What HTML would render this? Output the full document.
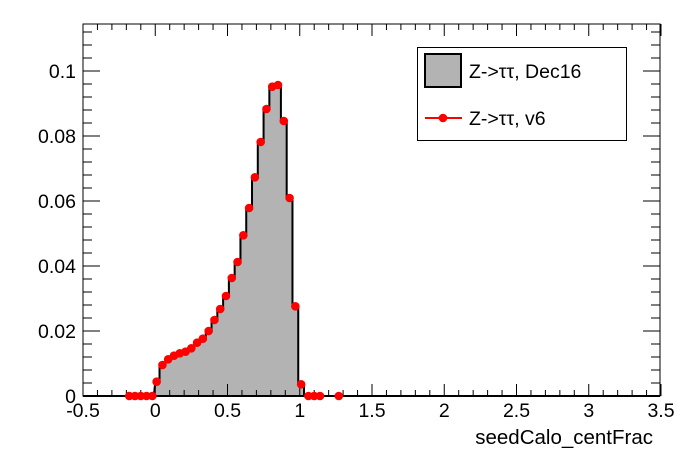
<!DOCTYPE html>
<html><head><meta charset="utf-8"><style>body{margin:0;background:#fff}svg{display:block}text{font-family:"Liberation Sans",sans-serif}</style></head>
<body><svg id="s" width="696" height="472" xmlns="http://www.w3.org/2000/svg"></svg>
<script>
const X=v=>83+(v+0.5)*144.5, Y=v=>396-v*3250;
let h='';
const pts=[[-0.18,396],[-0.14,396],[-0.10,396],[-0.06,396],[-0.02,396],
[0.02,381.7],[0.06,365],[0.10,359.3],[0.14,355.7],[0.18,353.3],[0.22,351.7],[0.26,348.3],[0.30,342.7],[0.34,338.7],[0.38,331],[0.42,320],[0.46,309],[0.50,296],[0.54,278],[0.58,262],[0.62,235.3],[0.66,208],[0.70,177.3],[0.74,142],[0.78,109],[0.82,86.7],[0.86,85],[0.90,121],[0.94,198],[0.98,306.3],[1.02,384.3],[1.06,396],[1.10,396],[1.14,396],[1.27,396]];
const B=v=>v>0&&v<1.05?X(v)-1.5:X(v);
let d='M'+B(0.001)+',396';
pts.filter(p=>p[0]>0&&p[0]<1.05).forEach(p=>{d+=' L'+B(p[0]-0.02)+','+p[1]+' L'+B(p[0]+0.02)+','+p[1];});
d+=' L'+B(1.04)+',396 Z';
h+=`<path d="${d}" fill="#b3b3b3" stroke="#000" stroke-width="2"/>`;
h+=`<rect x="83" y="24" width="577" height="372" fill="none" stroke="#000" stroke-width="1"/>`;
h+=`<line x1="83" y1="396" x2="660" y2="396" stroke="#000" stroke-width="2"/>`;
for(let i=0;i<=40;i++){const v=-0.5+i*0.1,x=X(v),L=(i%5==0)?12:6;
h+=`<line x1="${x}" y1="396" x2="${x}" y2="${396-L}" stroke="#000"/><line x1="${x}" y1="24" x2="${x}" y2="${24+L}" stroke="#000"/>`;}
for(let i=0;i*0.004<=0.1145;i++){const y=Y(i*0.004),L=(i%5==0)?17:9;
h+=`<line x1="83" y1="${y}" x2="${83+L}" y2="${y}" stroke="#000"/><line x1="660" y1="${y}" x2="${660-L}" y2="${y}" stroke="#000"/>`;}
['-0.5','0','0.5','1','1.5','2','2.5','3','3.5'].forEach((t,i)=>{h+=`<text x="${X(-0.5+i*0.5)}" y="417" font-size="19.5" text-anchor="middle">${t}</text>`;});
['0','0.02','0.04','0.06','0.08','0.1'].forEach((t,i)=>{h+=`<text x="76" y="${Y(i*0.02)+7}" font-size="19.5" text-anchor="end">${t}</text>`;});
h+=`<text x="653" y="444" font-size="20.5" text-anchor="end">seedCalo_centFrac</text>`;
pts.forEach(p=>{h+=`<circle cx="${B(p[0])}" cy="${p[1]}" r="4.3" fill="#f00"/>`;});
h+=`<rect x="417.5" y="47.5" width="209" height="93" fill="#fff" stroke="#000"/>`;
h+=`<rect x="425" y="54" width="36" height="33" fill="#b3b3b3" stroke="#000" stroke-width="2"/>`;
h+=`<text x="469" y="78" font-size="19.5">Z-&gt;ττ, Dec16</text>`;
h+=`<line x1="425" y1="118" x2="462" y2="118" stroke="#f00" stroke-width="2"/><circle cx="443" cy="118" r="4.3" fill="#f00"/>`;
h+=`<text x="469" y="125" font-size="19.5">Z-&gt;ττ, v6</text>`;
document.getElementById('s').innerHTML=h;
</script></body></html>
